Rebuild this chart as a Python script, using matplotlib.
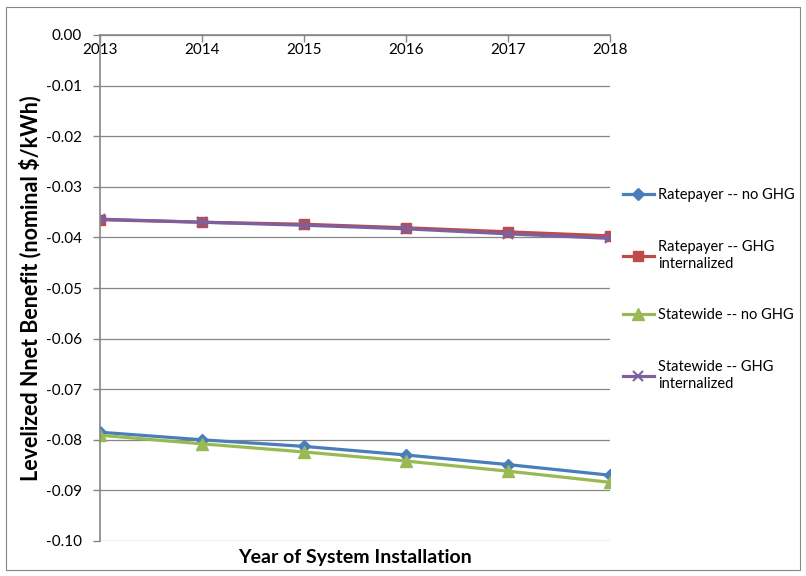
import matplotlib
matplotlib.use("Agg")
import matplotlib.pyplot as plt
from matplotlib.ticker import FormatStrFormatter
from matplotlib.patches import Rectangle

plt.rcParams['font.family'] = ['Lato', 'DejaVu Sans']
plt.rcParams['axes.unicode_minus'] = False

years = [2013, 2014, 2015, 2016, 2017, 2018]
ratepayer_no_ghg = [-0.0785, -0.0800, -0.0813, -0.0830, -0.0849, -0.0870]
ratepayer_ghg = [-0.0365, -0.0370, -0.0374, -0.0381, -0.0389, -0.0397]
statewide_no_ghg = [-0.0791, -0.0808, -0.0824, -0.0842, -0.0862, -0.0884]
statewide_ghg = [-0.0364, -0.0370, -0.0376, -0.0383, -0.0393, -0.0402]

labels = ['Ratepayer -- no GHG', 'Ratepayer -- GHG\ninternalized',
          'Statewide -- no GHG', 'Statewide -- GHG\ninternalized']

fig = plt.figure(figsize=(8.06, 5.76), dpi=100)
fig.patch.set_facecolor('white')
# outer chart border like Excel
fig.add_artist(Rectangle((6 / 806, 1 - 570 / 576), 794 / 806, 563 / 576,
                         transform=fig.transFigure, fill=False,
                         edgecolor='#868686', linewidth=0.8))

ax = fig.add_axes([100 / 806, 1 - 541 / 576, 510 / 806, 506 / 576])

ax.plot(years, ratepayer_no_ghg, color='#4A7EBB', lw=2.3, marker='D', ms=6, label=labels[0])
ax.plot(years, ratepayer_ghg, color='#BE4B48', lw=2.3, marker='s', ms=7, label=labels[1])
ax.plot(years, statewide_no_ghg, color='#98B954', lw=2.3, marker='^', ms=8, label=labels[2])
ax.plot(years, statewide_ghg, color='#7D60A0', lw=2.3, marker='x', ms=7, mew=1.5, label=labels[3])

ax.set_xlim(2013, 2018)
ax.set_ylim(-0.10, 0.0)
ax.set_yticks([-0.10 + 0.01 * i for i in range(11)])
ax.yaxis.set_major_formatter(FormatStrFormatter('%.2f'))
ax.set_xticks(years)

ax.grid(axis='y', color='#868686', linewidth=0.9)
ax.set_axisbelow(True)
for s in ['top', 'right']:
    ax.spines[s].set_visible(False)
ax.spines['bottom'].set_position(('data', 0))
ax.spines['bottom'].set_color('#868686')
ax.spines['left'].set_color('#868686')
ax.spines['bottom'].set_linewidth(1.2)
ax.spines['left'].set_linewidth(1.2)
ax.tick_params(axis='both', color='#868686', labelsize=11, length=5, width=1)
ax.tick_params(axis='x', pad=1)
ax.tick_params(axis='y', pad=8)

ax.set_ylabel('Levelized Nnet Benefit (nominal $/kWh)', fontsize=15.5, fontweight='bold', labelpad=3)
ax.text(0.5, -0.016, 'Year of System Installation', transform=ax.transAxes,
        ha='center', va='top', fontsize=14, fontweight='bold')

ax.legend(loc='center left', bbox_to_anchor=(1.0255, 0.497), frameon=False,
          borderpad=0, borderaxespad=0,
          fontsize=10.5, labelspacing=2.6, handlelength=2.1, handletextpad=0.3)

fig.savefig('out.png', dpi=100, facecolor='white')
